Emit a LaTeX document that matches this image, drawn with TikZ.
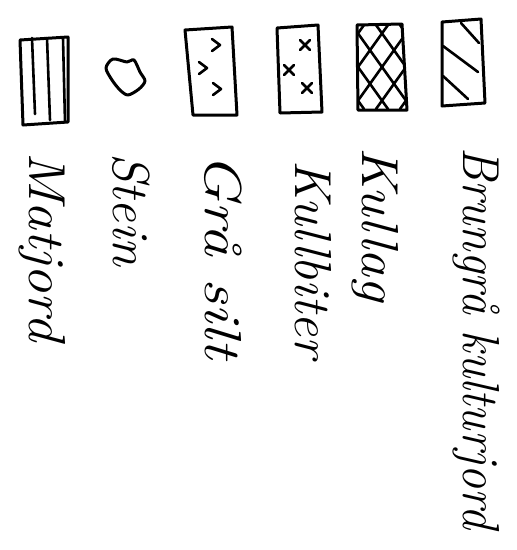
\documentclass[tikz,border=0pt]{standalone}
\usepackage{tikz}

\begin{document}
\begin{tikzpicture}[x=1pt,y=-1pt,line cap=round,line join=round,
  swatch/.style={line width=3pt},
  hatchline/.style={line width=2.6pt},
  legendtext/.style={anchor=base west,rotate=-90,inner sep=0pt,font=\fontsize{52}{60}\selectfont\itshape}]
  \useasboundingbox (0,0) rectangle (517,550);

  % Brungraa kulturjord: diagonal hatching
  \draw[swatch] (442,22) -- (481,19) -- (485,103) -- (442,106) -- cycle;
  \draw[hatchline] (461,23) -- (479,43);
  \draw[hatchline] (443,46) -- (478,72);
  \draw[hatchline] (443,76) -- (468,99);

  % Kullag: cross hatching
  \draw[swatch] (357,25) -- (402,24) -- (407,110) -- (358,110) -- cycle;
  \begin{scope}
    \clip (357,25) -- (402,24) -- (407,110) -- (358,110) -- cycle;
    \foreach \k in {-3,...,3} {
      \draw[hatchline] (382+\k*24-30,67-42) -- (382+\k*24+30,67+42);
      \draw[hatchline] (382+\k*24+30,67-42) -- (382+\k*24-30,67+42);
    }
  \end{scope}

  % Kullbiter: crosses
  \draw[swatch] (277,28) -- (318,25) -- (322,112) -- (280,113) -- cycle;
  \foreach \cx/\cy in {305/45,289/70,307/88} {
    \draw[hatchline] (\cx-5,\cy-5) -- (\cx+5,\cy+5);
    \draw[hatchline] (\cx+5,\cy-5) -- (\cx-5,\cy+5);
  }

  % Graa silt: chevrons
  \draw[swatch] (185,30) -- (232,27) -- (237,115) -- (193,115) -- cycle;
  \foreach \cx/\cy in {216/45,203/68,217/89}
    \draw[hatchline] (\cx-4,\cy-6) -- (\cx+4,\cy) -- (\cx-4,\cy+6);

  % Stein: rounded blob
  \draw[swatch] plot[smooth cycle] coordinates {(106,68) (113,59) (127,62) (134,60)
    (140,72) (145,81) (139,89) (128,95) (120,90) (112,80)};

  % Matjord: vertical lines
  \draw[swatch] (20,40) -- (68,37) -- (68,122) -- (23,125) -- cycle;
  \draw[hatchline] (32,38) -- (35,114);
  \draw[hatchline] (47,38) -- (50,120);
  \draw[hatchline] (63,38) -- (65,122);

  % Labels
  \node[legendtext,xscale=0.92] (brungraa) at (463,147) {Brungrå kulturjord};
  \node[legendtext,xscale=1.08] (kullag) at (362,147) {Kullag};
  \node[legendtext,xscale=1.02] (kullbiter) at (295,160) {Kullbiter};
  \node[legendtext,xscale=1.22] (graasilt) at (205,153) {Grå silt};
  \node[legendtext] (stein) at (113,153) {Stein};
  \node[legendtext,xscale=1.08] (matjord) at (30,152) {Matjord};
\end{tikzpicture}
\end{document}
